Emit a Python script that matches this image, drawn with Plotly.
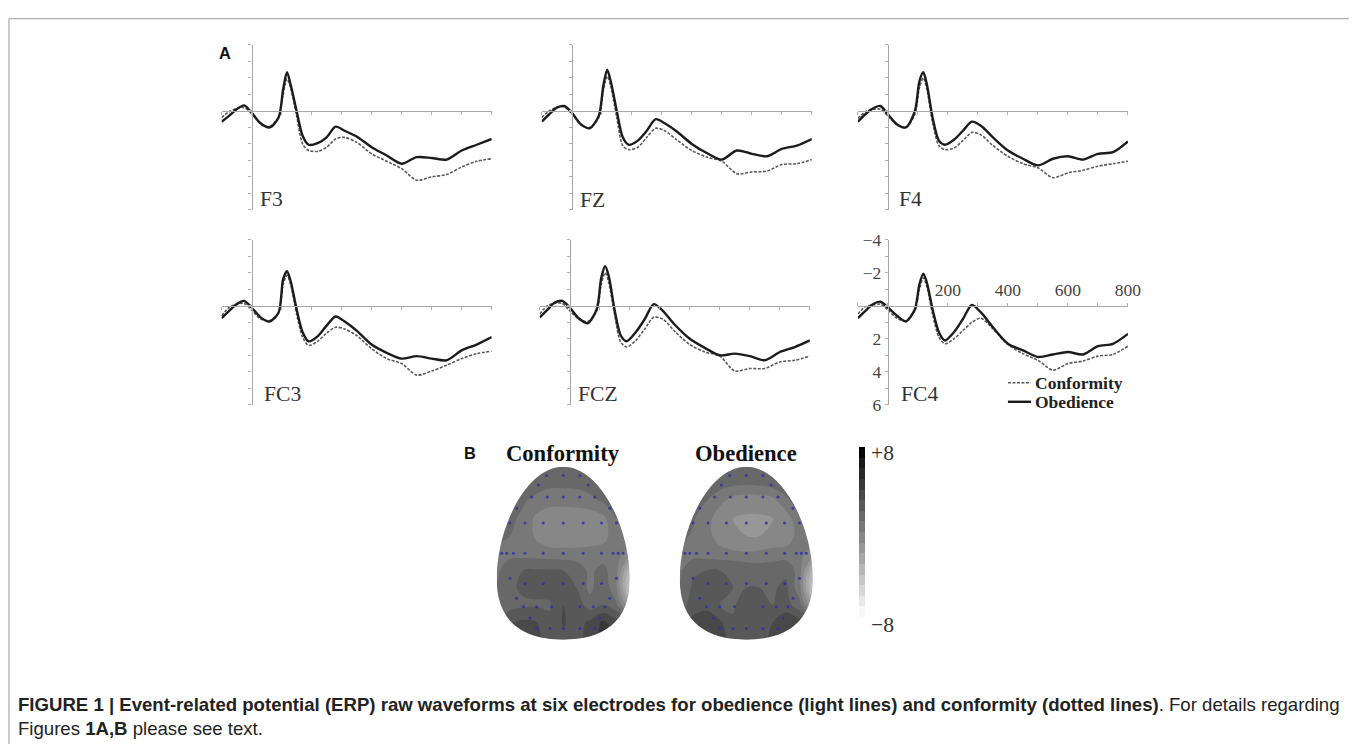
import plotly.graph_objects as go

# figure size and the measured mapping from figure pixels to the photographed window
W, H = 1362, 752
OFF = 8                     # default body margin of the page
SX, SY = 0.990, 0.974       # measured scale of the photograph
AX, AY = 0.6, 8.2           # measured offset of the photograph

# ---------------- data ----------------
TIME_MS = [-100, -75, -50, -25, 0, 30, 60, 90, 105, 118, 130, 150, 170, 190,
           220, 250, 280, 310, 350, 400, 450, 500, 550, 600, 650, 700, 750, 800]

ELECTRODES = ["F3", "FZ", "F4", "FC3", "FCZ", "FC4"]

F3_OBEDIENCE = [0.66, 0.3, -0.1, -0.34, 0.1, 0.75, 1.0, 0.4, -1.3, -2.35, -1.6, 0.0, 1.5, 2.05,
                1.95, 1.6, 0.95, 1.2, 1.55, 2.2, 2.7, 3.2, 2.8, 2.85, 2.95, 2.4, 2.05, 1.7]
F3_CONFORMITY = [0.4, 0.05, -0.15, -0.2, 0.15, 0.8, 0.95, 0.35, -1.0, -1.95, -1.4, 0.3, 2.0, 2.4,
                 2.45, 2.2, 1.7, 1.6, 1.9, 2.6, 3.05, 3.5, 4.2, 4.0, 3.85, 3.4, 3.05, 2.9]

FZ_OBEDIENCE = [0.65, 0.2, -0.2, -0.3, 0.1, 0.8, 1.05, 0.3, -1.5, -2.5, -1.8, 0.0, 1.6, 2.05,
                1.8, 1.2, 0.5, 0.75, 1.25, 2.0, 2.55, 2.95, 2.4, 2.6, 2.75, 2.3, 2.1, 1.7]
FZ_CONFORMITY = [0.4, 0.0, -0.2, -0.25, 0.15, 0.85, 1.0, 0.4, -1.2, -2.1, -1.5, 0.4, 2.1, 2.35,
                 2.2, 1.6, 1.05, 1.2, 1.75, 2.4, 2.8, 3.05, 3.8, 3.7, 3.65, 3.25, 3.2, 2.95]

F4_OBEDIENCE = [0.65, 0.2, -0.15, -0.3, 0.2, 0.8, 1.0, 0.0, -1.8, -2.35, -1.6, 0.5, 1.8, 2.05,
                1.75, 1.2, 0.65, 0.9, 1.6, 2.4, 2.9, 3.3, 2.9, 2.75, 2.95, 2.6, 2.5, 1.85]
F4_CONFORMITY = [0.45, 0.05, -0.1, -0.1, 0.3, 0.85, 1.0, 0.2, -1.4, -2.0, -1.3, 0.8, 2.1, 2.35,
                 2.25, 1.8, 1.3, 1.45, 2.1, 2.75, 3.2, 3.45, 4.05, 3.75, 3.6, 3.35, 3.2, 3.05]

FC3_OBEDIENCE = [0.75, 0.3, -0.1, -0.3, 0.1, 0.7, 0.95, 0.4, -1.6, -2.1, -1.5, 0.2, 1.6, 2.15,
                 1.85, 1.2, 0.65, 0.95, 1.5, 2.35, 2.85, 3.2, 3.05, 3.2, 3.3, 2.7, 2.35, 1.9]
FC3_CONFORMITY = [0.6, 0.1, -0.1, -0.15, 0.25, 0.8, 0.9, 0.4, -1.3, -1.85, -1.3, 0.5, 1.9, 2.4,
                  2.15, 1.65, 1.3, 1.4, 1.8, 2.6, 3.2, 3.5, 4.2, 3.95, 3.6, 3.2, 2.9, 2.75]

FCZ_OBEDIENCE = [0.7, 0.25, -0.2, -0.3, 0.1, 0.75, 1.05, 0.2, -1.7, -2.4, -1.8, 0.3, 1.8, 2.15,
                 1.6, 0.8, -0.1, 0.3, 1.15, 2.0, 2.55, 3.0, 2.9, 3.05, 3.3, 2.8, 2.5, 2.1]
FCZ_CONFORMITY = [0.5, 0.0, -0.15, -0.15, 0.3, 0.8, 0.95, 0.3, -1.3, -2.0, -1.4, 0.6, 2.2, 2.5,
                  2.1, 1.4, 0.7, 0.8, 1.55, 2.35, 2.8, 3.05, 3.95, 3.8, 3.8, 3.4, 3.3, 3.05]

FC4_OBEDIENCE = [0.75, 0.3, -0.1, -0.25, 0.1, 0.6, 0.95, 0.2, -1.3, -1.95, -1.4, 0.3, 1.6, 2.1,
                 1.6, 0.8, -0.05, 0.4, 1.3, 2.3, 2.7, 3.1, 2.95, 2.8, 2.95, 2.45, 2.3, 1.7]
FC4_CONFORMITY = [0.5, 0.05, -0.05, -0.1, 0.25, 0.75, 0.9, 0.3, -1.0, -1.7, -1.15, 0.6, 1.9, 2.3,
                  2.0, 1.5, 1.0, 0.75, 1.4, 2.35, 2.9, 3.3, 3.9, 3.5, 3.35, 3.05, 2.95, 2.45]

X_TICKS = [-100, 0, 100, 200, 300, 400, 500, 600, 700, 800]
X_TICK_LABELS = ["", "", "", "200", "", "400", "", "600", "", "800"]
Y_TICKS = [-4, -3, -2, -1, 0, 1, 2, 3, 4, 5, 6]
Y_TICK_LABELS = ["\u22124", "", "\u22122", "", "", "", "2", "", "4", "", "6"]

# topographic maps (µV, -8..+8), rows top (front) -> bottom (back)
TOPO_X = [-1.0, -0.8, -0.6, -0.4, -0.2, 0.0, 0.2, 0.4, 0.6, 0.8, 1.0]
TOPO_Y = [1.0, 0.8, 0.6, 0.4, 0.2, 0.0, -0.2, -0.4, -0.6, -0.8, -1.0]
CONFORMITY_MAP = [
    [1.5, 1.5, 1.5, 1.5, 1.5, 1.5, 1.5, 1.5, 1.5, 1.5, 1.5],
    [1.5, 1.5, 1.5, 1.4, 1.2, 1.2, 1.2, 1.4, 1.5, 1.5, 1.5],
    [1.5, 1.4, 1.1, 0.7, 0.4, 0.4, 0.5, 0.7, 1.1, 1.4, 1.5],
    [1.4, 1.2, 0.8, -0.3, -0.8, -0.9, -0.9, -0.8, -0.3, 1.0, 1.4],
    [1.2, 1.0, 0.7, -0.2, -0.8, -0.9, -0.9, -0.8, -0.4, 0.7, 1.2],
    [0.8, 0.7, 0.6, 0.5, 0.4, 0.4, 0.4, 0.5, 0.5, 0.4, -0.5],
    [0.8, 1.6, 2.0, 2.1, 2.1, 2.0, 1.6, 0.8, 1.3, 0.3, -3.5],
    [1.0, 1.8, 2.2, 2.2, 2.3, 2.4, 2.0, 0.7, 1.8, 0.1, -4.5],
    [1.3, 1.6, 1.8, 1.9, 1.9, 3.0, 2.6, 1.5, 2.0, 1.2, -2.0],
    [2.0, 2.9, 3.2, 3.0, 2.2, 3.1, 2.6, 3.2, 4.2, 3.4, 2.4],
    [2.4, 3.2, 3.4, 3.2, 2.6, 2.8, 2.6, 3.4, 4.4, 3.9, 3.4],
]
OBEDIENCE_MAP = [
    [1.5, 1.5, 1.5, 1.5, 1.5, 1.5, 1.5, 1.5, 1.5, 1.5, 1.5],
    [1.5, 1.5, 1.5, 1.4, 1.2, 1.1, 1.2, 1.4, 1.5, 1.5, 1.5],
    [1.5, 1.4, 1.0, 0.3, -0.5, -0.7, -0.7, -0.4, 0.8, 1.4, 1.5],
    [1.4, 1.1, 0.5, -0.7, -1.0, -1.1, -1.1, -1.0, -0.6, 0.9, 1.4],
    [1.2, 0.9, 0.4, -0.5, -0.9, -1.0, -1.0, -0.9, -0.6, 0.4, 1.0],
    [0.8, 0.6, 0.5, 0.4, 0.2, 0.1, 0.2, 0.4, 0.4, 0.3, -0.5],
    [0.8, 1.8, 2.0, 2.0, 2.0, 1.8, 1.6, 1.6, 1.8, 0.5, -3.5],
    [1.0, 2.2, 2.4, 2.3, 2.0, 2.0, 2.0, 1.9, 2.2, 0.3, -4.5],
    [1.6, 2.4, 2.6, 2.0, 1.8, 2.8, 2.2, 2.0, 2.4, 1.4, -2.0],
    [2.4, 3.4, 3.8, 3.2, 2.2, 3.0, 2.4, 3.0, 3.8, 3.4, 2.4],
    [2.8, 3.8, 4.0, 3.4, 2.6, 2.8, 2.4, 3.4, 4.2, 3.8, 3.4],
]
ELECTRODE_X = [-0.25, 0, 0.25, -0.375, 0.375, -0.475, -0.24, 0, 0.25, 0.475, -0.7, 0.7,
               -0.8, -0.575, -0.3, 0, 0.3, 0.575, 0.8,
               -0.925, -0.85, -0.75, -0.575, -0.3, 0, 0.3, 0.575, 0.75, 0.825, 0.9,
               -0.8, 0.8, -0.575, -0.3, 0, 0.3, 0.575, -0.7, 0.7,
               -0.6, -0.4, -0.175, 0.25, 0.45, 0.625, -0.5, 0.55,
               -0.4, -0.2, 0, 0.25, 0.475]
ELECTRODE_Y = [0.9, 0.9, 0.9, 0.79, 0.79, 0.65, 0.65, 0.65, 0.65, 0.65, 0.52, 0.52,
               0.35, 0.35, 0.35, 0.35, 0.35, 0.35, 0.35,
               0, 0, 0, 0, 0, 0, 0, 0, 0, 0, 0,
               -0.29, -0.29, -0.35, -0.35, -0.35, -0.35, -0.35, -0.52, -0.52,
               -0.62, -0.62, -0.62, -0.62, -0.62, -0.62, -0.75, -0.75,
               -0.87, -0.87, -0.87, -0.87, -0.87]
COLORBAR_LABELS = ["+8", "\u22128"]

SERIES = {
    "F3": (F3_CONFORMITY, F3_OBEDIENCE),
    "FZ": (FZ_CONFORMITY, FZ_OBEDIENCE),
    "F4": (F4_CONFORMITY, F4_OBEDIENCE),
    "FC3": (FC3_CONFORMITY, FC3_OBEDIENCE),
    "FCZ": (FCZ_CONFORMITY, FCZ_OBEDIENCE),
    "FC4": (FC4_CONFORMITY, FC4_OBEDIENCE),
}


# ---------------- layout helpers (window pixel -> paper) ----------------
def px(x):
    return ((x - AX) / SX - OFF) / W


def py(y):
    return 1 - ((y - AY) / SY - OFF) / H


def fs(size):
    return round(size / SY, 1)


SERIF = "Liberation Serif, Times New Roman, serif"
SANS = "Liberation Sans, Arial, sans-serif"

PANEL_BOX = {
    "F3": ((222, 492, 43, 208), (258, 197)),
    "FZ": ((542, 812, 43, 208), (578, 198)),
    "F4": ((858, 1128, 43, 208), (897, 197)),
    "FC3": ((222, 492, 238, 403), (262, 392)),
    "FCZ": ((540, 810, 238, 403), (576, 392)),
    "FC4": ((858, 1128, 238, 403), (899, 392)),
}

fig = go.Figure()
layout = dict(
    width=W, height=H, margin=dict(l=0, r=0, t=0, b=0),
    paper_bgcolor="white", plot_bgcolor="rgba(0,0,0,0)",
    showlegend=False, shapes=[], annotations=[],
)

for i, name in enumerate(ELECTRODES, start=1):
    (x0, x1, y0, y1), (lx, ly) = PANEL_BOX[name]
    conf, obed = SERIES[name]
    sfx = "" if i == 1 else str(i)
    fig.add_trace(go.Scatter(
        x=TIME_MS, y=conf, mode="lines", xaxis="x" + sfx, yaxis="y" + sfx,
        line=dict(color="#5a5a5a", width=1.6, dash="3px,1.5px", shape="spline", smoothing=0.8),
        name="Conformity"))
    fig.add_trace(go.Scatter(
        x=TIME_MS, y=obed, mode="lines", xaxis="x" + sfx, yaxis="y" + sfx,
        line=dict(color="#1c1c1c", width=2.4, shape="spline", smoothing=0.8),
        name="Obedience"))
    x_zero = x0 + (x1 - x0) * (0 - (-100)) / 900.0
    y_zero = y0 + (y1 - y0) * (0 - (-4)) / 10.0
    labelled = name == "FC4"
    layout["xaxis" + sfx] = dict(
        domain=[px(x0), px(x1)], range=[-100, 800], anchor="free", position=py(y_zero),
        side="top" if labelled else "bottom",
        showline=True, linecolor="#a8a8a8", linewidth=1.2, showgrid=False, zeroline=False,
        ticks="outside", ticklen=3, tickcolor="#b0b0b0", tickwidth=1,
        tickvals=X_TICKS, ticktext=X_TICK_LABELS if labelled else [""] * len(X_TICKS),
        tickfont=dict(family=SERIF, size=fs(17), color="#444"), fixedrange=True,
    )
    layout["yaxis" + sfx] = dict(
        domain=[py(y1), py(y0)], range=[6, -4], anchor="free", position=px(x_zero),
        showline=True, linecolor="#a8a8a8", linewidth=1.2, showgrid=False, zeroline=False,
        ticks="outside", ticklen=3, tickcolor="#b0b0b0", tickwidth=1,
        tickvals=Y_TICKS, ticktext=Y_TICK_LABELS if labelled else [""] * len(Y_TICKS),
        tickfont=dict(family=SERIF, size=fs(17), color="#444"), fixedrange=True,
    )
    layout["annotations"].append(dict(
        text=name, x=px(lx), y=py(ly), xref="paper", yref="paper",
        xanchor="left", yanchor="middle", showarrow=False,
        font=dict(family=SERIF, size=fs(21), color="#333")))

# legend inside FC4
for (yy, dash, col, wid, label) in [(381, "3px,1.5px", "#5a5a5a", 1.6, "Conformity"),
                                    (400, "solid", "#1c1c1c", 2.4, "Obedience")]:
    layout["shapes"].append(dict(type="line", xref="paper", yref="paper",
                                 x0=px(1008), x1=px(1031), y0=py(yy), y1=py(yy),
                                 line=dict(color=col, width=wid, dash=dash)))
    layout["annotations"].append(dict(
        text="<b>" + label + "</b>", x=px(1033), y=py(yy), xref="paper", yref="paper",
        xanchor="left", yanchor="middle", showarrow=False,
        font=dict(family=SERIF, size=fs(17), color="#222")))

# ---------------- topographic maps ----------------
R = 1.03  # axis half-range (map spans +-1)
HEAD_BOX = {"Conformity": (497, 630, 465, 638, 7, CONFORMITY_MAP),
            "Obedience": (680, 813, 465, 638, 8, OBEDIENCE_MAP)}
GRAY = [[0.0, "#ffffff"], [1.0, "#000000"]]
EGG = ("M -1.2,-1.2 L 1.2,-1.2 L 1.2,1.2 L -1.2,1.2 Z "
       "M 0,1 C 0.55,1 1,0.3 1,-0.3 C 1,-0.8 0.6,-1 0,-1 "
       "C -0.6,-1 -1,-0.8 -1,-0.3 C -1,0.3 -0.55,1 0,1 Z")

for k, (title, (x0, x1, y0, y1, ax, zmap)) in enumerate(HEAD_BOX.items()):
    sfx = str(ax)
    hx = (x1 - x0) / 2 * (R - 1)
    hy = (y1 - y0) / 2 * (R - 1)
    fig.add_trace(go.Contour(
        x=TOPO_X, y=TOPO_Y[::-1], z=zmap[::-1], xaxis="x" + sfx, yaxis="y" + sfx,
        colorscale=GRAY, zmin=-8, zmax=8, zauto=False, autocontour=False,
        contours=dict(start=-8, end=8, size=1, coloring="fill", showlines=False),
        line=dict(width=0), showscale=(k == 0),
        colorbar=dict(x=px(859), xanchor="left", y=py(530), yanchor="middle",
                      len=166 / SY, lenmode="pixels", thickness=6, thicknessmode="pixels",
                      outlinewidth=0, showticklabels=False, ticks="", xpad=0, ypad=0),
        hoverinfo="skip"))
    fig.add_trace(go.Scatter(
        x=ELECTRODE_X, y=ELECTRODE_Y, mode="markers", xaxis="x" + sfx, yaxis="y" + sfx,
        marker=dict(size=3, color="#3030a8", opacity=0.85), hoverinfo="skip"))
    layout["xaxis" + sfx] = dict(domain=[px(x0 - hx), px(x1 + hx)], range=[-R, R], visible=False,
                                 anchor="y" + sfx, fixedrange=True)
    layout["yaxis" + sfx] = dict(domain=[py(y1 + hy), py(y0 - hy)], range=[-R, R], visible=False,
                                 anchor="x" + sfx, fixedrange=True)
    layout["shapes"].append(dict(type="path", xref="x" + sfx, yref="y" + sfx, path=EGG,
                                 fillcolor="white", fillrule="evenodd",
                                 line=dict(width=0), layer="above"))
    layout["annotations"].append(dict(
        text="<b>" + title + "</b>", x=px((x0 + x1) / 2), y=py(452), xref="paper", yref="paper",
        xanchor="center", yanchor="middle", showarrow=False,
        font=dict(family=SERIF, size=fs(22), color="#111")))

for lab, yy in zip(COLORBAR_LABELS, [451, 623]):
    layout["annotations"].append(dict(
        text=lab, x=px(869), y=py(yy), xref="paper", yref="paper",
        xanchor="left", yanchor="middle", showarrow=False,
        font=dict(family=SERIF, size=fs(21), color="#333")))

# panel letters
for lab, (xx, yy) in {"A": (217, 51), "B": (462, 451)}.items():
    layout["annotations"].append(dict(
        text="<b>" + lab + "</b>", x=px(xx), y=py(yy), xref="paper", yref="paper",
        xanchor="left", yanchor="middle", showarrow=False,
        font=dict(family=SANS, size=fs(16), color="#111")))

# caption
layout["annotations"].append(dict(
    text=("<b>FIGURE 1 | Event-related potential (ERP) raw waveforms at six electrodes for "
          "obedience (light lines) and conformity (dotted lines)</b>. For details regarding"),
    x=px(17), y=py(703), xref="paper", yref="paper", xanchor="left", yanchor="middle",
    showarrow=False, font=dict(family=SANS, size=18.6, color="#222")))
layout["annotations"].append(dict(
    text="Figures <b>1A,B</b> please see text.",
    x=px(17), y=py(727), xref="paper", yref="paper", xanchor="left", yanchor="middle",
    showarrow=False, font=dict(family=SANS, size=18.6, color="#222")))

# frame
layout["shapes"].append(dict(type="rect", xref="paper", yref="paper",
                             x0=px(9.5), x1=px(1351), y0=-0.05, y1=min(py(8), 0.999),
                             line=dict(color="#9a9a9a", width=1), fillcolor="rgba(0,0,0,0)",
                             layer="below"))

fig.update_layout(**layout)
fig.write_html("out.html")
